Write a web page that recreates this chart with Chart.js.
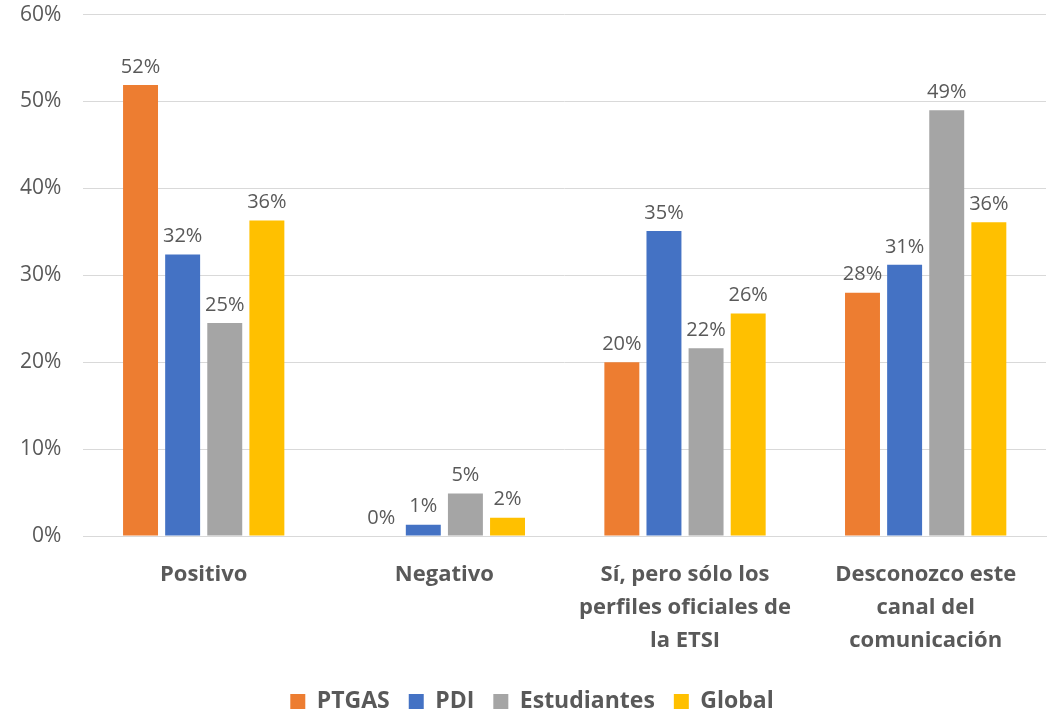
<!DOCTYPE html>
<html>
<head>
<meta charset="utf-8">
<script src="https://cdn.jsdelivr.net/npm/chart.js@4"></script>
<style>
html,body{margin:0;padding:0;background:#fff;}
#wrap{width:1064px;height:711px;position:relative;}
</style>
</head>
<body>
<div id="wrap"><canvas id="c"></canvas></div>
<script>
const categories = [["Positivo"], ["Negativo"], ["Sí, pero sólo los", "perfiles oficiales de", "la ETSI"], ["Desconozco este", "canal del", "comunicación"]];
const seriesNames = ["PTGAS", "PDI", "Estudiantes", "Global"];
const ptgas = [51.9, 0, 20.0, 28.0];
const pdi = [32.4, 1.3, 35.1, 31.2];
const estudiantes = [24.5, 4.9, 21.6, 49.0];
const global = [36.3, 2.1, 25.6, 36.1];
const yTicks = [0, 10, 20, 30, 40, 50, 60];
const colors = ["#ED7D31", "#4472C4", "#A5A5A5", "#FFC000"];

const FONT = "'Open Sans', 'Liberation Sans', sans-serif";
const TXT = "#595959";

const labelPlugin = {
  id: 'barLabels',
  afterDatasetsDraw(chart) {
    const ctx = chart.ctx;
    ctx.save();
    ctx.font = "20px " + FONT;
    ctx.fillStyle = TXT;
    ctx.textAlign = 'center';
    ctx.textBaseline = 'bottom';
    chart.data.datasets.forEach((ds, i) => {
      const meta = chart.getDatasetMeta(i);
      meta.data.forEach((bar, j) => {
        const v = ds.data[j];
        ctx.fillText(Math.round(v) + '%', bar.x, bar.y - 8);
      });
    });
    ctx.restore();
  }
};

const allSeries = [ptgas, pdi, estudiantes, global];
new Chart(document.getElementById('c'), {
  type: 'bar',
  data: {
    labels: categories,
    datasets: seriesNames.map((n, i) => ({
      label: n,
      data: allSeries[i],
      backgroundColor: colors[i],
      borderWidth: 0,
      categoryPercentage: 0.7,
      barPercentage: 0.83
    }))
  },
  options: {
    responsive: true,
    maintainAspectRatio: false,
    animation: false,
    layout: { padding: { left: 18, right: 18, top: 7, bottom: -12 } },
    plugins: {
      legend: {
        position: 'bottom',
        labels: {
          font: { family: FONT, size: 23, weight: 'bold' },
          color: TXT,
          boxWidth: 15,
          boxHeight: 15,
          padding: 19
        }
      },
      tooltip: { enabled: false }
    },
    scales: {
      x: {
        grid: { display: false },
        border: { color: '#D9D9D9', width: 1 },
        ticks: {
          font: { family: FONT, size: 22, weight: 'bold', lineHeight: 1.5 },
          color: TXT,
          maxRotation: 0,
          autoSkip: false,
          padding: 14
        }
      },
      y: {
        min: 0,
        max: 60,
        afterBuildTicks(axis) { axis.ticks = yTicks.map(v => ({ value: v })); },
        grid: { color: '#D9D9D9', lineWidth: 1, drawTicks: true, tickLength: 20, tickColor: 'rgba(0,0,0,0)' },
        border: { display: false },
        ticks: {
          font: { family: FONT, size: 21 },
          color: TXT,
          padding: 2,
          callback: v => v + '%'
        }
      }
    }
  },
  plugins: [labelPlugin]
});
</script>
</body>
</html>
